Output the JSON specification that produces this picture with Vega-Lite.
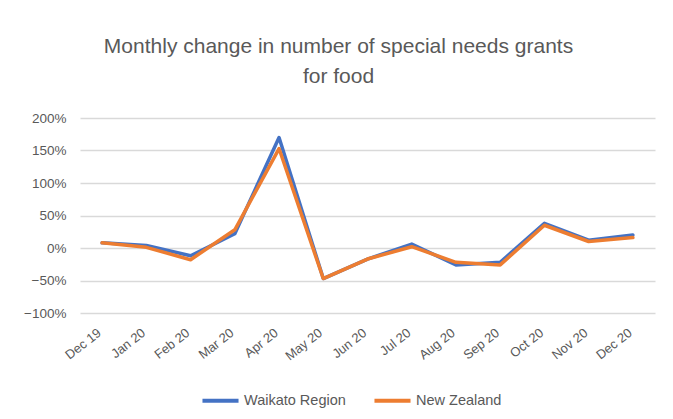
{
  "$schema": "https://vega.github.io/schema/vega-lite/v6.json",
  "width": 575,
  "height": 195,
  "autosize": "none",
  "padding": {"left": 80, "top": 118, "right": 18, "bottom": 106},
  "background": "white",
  "title": {
    "text": ["Monthly change in number of special needs grants", "for food"],
    "font": "Liberation Sans",
    "fontSize": 21,
    "fontWeight": "normal",
    "color": "#595959",
    "anchor": "middle",
    "dx": -29,
    "offset": 24,
    "lineHeight": 30
  },
  "data": {
    "values": [
      {"month": "Dec 19", "series": "Waikato Region", "value": 0.08},
      {"month": "Jan 20", "series": "Waikato Region", "value": 0.04},
      {"month": "Feb 20", "series": "Waikato Region", "value": -0.12},
      {"month": "Mar 20", "series": "Waikato Region", "value": 0.22},
      {"month": "Apr 20", "series": "Waikato Region", "value": 1.70},
      {"month": "May 20", "series": "Waikato Region", "value": -0.47},
      {"month": "Jun 20", "series": "Waikato Region", "value": -0.17},
      {"month": "Jul 20", "series": "Waikato Region", "value": 0.06},
      {"month": "Aug 20", "series": "Waikato Region", "value": -0.26},
      {"month": "Sep 20", "series": "Waikato Region", "value": -0.22},
      {"month": "Oct 20", "series": "Waikato Region", "value": 0.38},
      {"month": "Nov 20", "series": "Waikato Region", "value": 0.12},
      {"month": "Dec 20", "series": "Waikato Region", "value": 0.20},
      {"month": "Dec 19", "series": "New Zealand", "value": 0.08},
      {"month": "Jan 20", "series": "New Zealand", "value": 0.01},
      {"month": "Feb 20", "series": "New Zealand", "value": -0.18},
      {"month": "Mar 20", "series": "New Zealand", "value": 0.28},
      {"month": "Apr 20", "series": "New Zealand", "value": 1.53},
      {"month": "May 20", "series": "New Zealand", "value": -0.47},
      {"month": "Jun 20", "series": "New Zealand", "value": -0.17},
      {"month": "Jul 20", "series": "New Zealand", "value": 0.02},
      {"month": "Aug 20", "series": "New Zealand", "value": -0.22},
      {"month": "Sep 20", "series": "New Zealand", "value": -0.26},
      {"month": "Oct 20", "series": "New Zealand", "value": 0.35},
      {"month": "Nov 20", "series": "New Zealand", "value": 0.10},
      {"month": "Dec 20", "series": "New Zealand", "value": 0.16}
    ]
  },
  "mark": {"type": "line", "strokeWidth": 3.5, "strokeJoin": "round", "strokeCap": "round"},
  "encoding": {
    "x": {
      "field": "month",
      "type": "ordinal",
      "sort": null,
      "scale": {"type": "point", "padding": 0.5},
      "axis": {
        "title": null,
        "labelAngle": -38,
        "labelAlign": "right",
        "labelBaseline": "middle",
        "labelFont": "Liberation Sans",
        "labelFontSize": 13,
        "labelColor": "#595959",
        "labelPadding": 18,
        "labelOffset": -3,
        "ticks": false,
        "domain": false,
        "grid": false
      }
    },
    "y": {
      "field": "value",
      "type": "quantitative",
      "scale": {"domain": [-1, 2], "nice": false, "zero": false},
      "axis": {
        "title": null,
        "values": [-1, -0.5, 0, 0.5, 1, 1.5, 2],
        "format": ".0%",
        "labelFont": "Liberation Sans",
        "labelFontSize": 13.5,
        "labelColor": "#595959",
        "labelPadding": 14,
        "ticks": false,
        "domain": false,
        "grid": true,
        "gridColor": "#D9D9D9",
        "gridWidth": 1.3
      }
    },
    "color": {
      "field": "series",
      "type": "nominal",
      "sort": ["Waikato Region", "New Zealand"],
      "scale": {"domain": ["Waikato Region", "New Zealand"], "range": ["#4472C4", "#ED7D31"]},
      "legend": {
        "title": null,
        "orient": "none",
        "legendX": 120,
        "legendY": 262,
        "direction": "horizontal",
        "symbolType": "stroke",
        "symbolStrokeWidth": 4,
        "symbolSize": 1300,
        "symbolOffset": 0,
        "labelOffset": 3,
        "labelFont": "Liberation Sans",
        "labelFontSize": 14.5,
        "labelColor": "#595959",
        "columnPadding": 20
      }
    },
    "order": {"field": "series", "sort": "descending"}
  },
  "config": {"view": {"stroke": null}}
}
